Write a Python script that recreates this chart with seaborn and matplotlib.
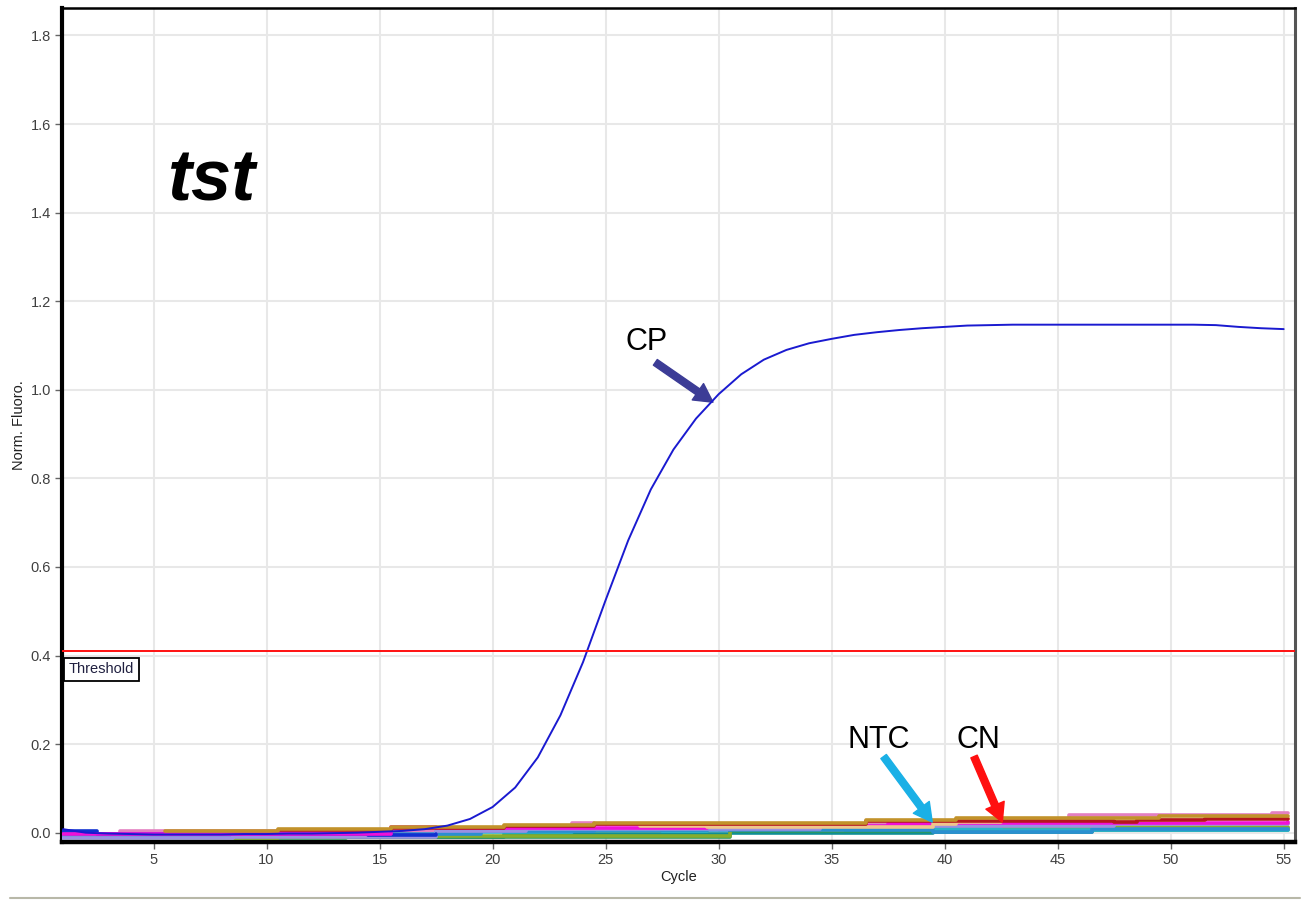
import numpy as np
import pandas as pd
import matplotlib
matplotlib.use("Agg")
import matplotlib.pyplot as plt
from matplotlib.lines import Line2D
import seaborn as sns

# ---------------- data ----------------
cycles = list(range(1, 56))
cp_values = [0.008, 0.000, -0.002, -0.003, -0.004, -0.004, -0.004, -0.004, -0.003, -0.003,
             -0.002, -0.002, -0.001, 0.000, 0.002, 0.004, 0.008, 0.016, 0.031, 0.058,
             0.102, 0.170, 0.265, 0.385, 0.525, 0.660, 0.775, 0.865, 0.935, 0.990,
             1.035, 1.068, 1.090, 1.105, 1.115, 1.124, 1.130, 1.135, 1.139, 1.142,
             1.145, 1.146, 1.147, 1.147, 1.147, 1.147, 1.147, 1.147, 1.147, 1.147,
             1.147, 1.146, 1.142, 1.139, 1.137]

threshold = 0.41

# background (negative / NTC) traces: step breakpoints (cycle) and values
pink_x = [1, 3.5, 23.5, 24.5, 45.5, 54.5, 55.2]
pink_y = [-0.004, 0.004, 0.022, 0.020, 0.039, 0.044, 0.044]
teal_x = [1, 2.5, 20.5, 30.5, 39.5, 46.5, 55.2]
teal_y = [-0.013, -0.010, -0.002, 0.000, 0.002, 0.005, 0.005]
green_x = [1, 13.5, 30.5, 39.5, 46.5, 55.2]
green_y = [-0.012, -0.010, 0.004, 0.008, 0.010, 0.010]
olive_x = [1, 3.5, 10.5, 13.5, 30.5, 35.5, 46.5, 55.2]
olive_y = [-0.011, -0.011, -0.009, -0.008, 0.006, 0.008, 0.012, 0.012]
cyan_x = [1, 3.5, 17.5, 23.5, 27.5, 29.5, 42.5, 55.2]
cyan_y = [-0.008, -0.006, 0.002, 0.006, 0.004, 0.008, 0.006, 0.007]
steel_x = [1, 15.5, 19.5, 24.5, 39.5, 46.5, 55.2]
steel_y = [-0.006, -0.004, 0.004, 0.006, 0.002, 0.008, 0.008]
purple_x = [1, 8.5, 17.5, 21.5, 34.5, 40.5, 47.5, 55.2]
purple_y = [-0.012, -0.010, 0.004, 0.008, 0.014, 0.016, 0.020, 0.020]
blue_x = [1, 2.5, 14.5, 16.5, 17.5]
blue_y = [0.003, -0.003, -0.006, -0.006, -0.002]
magenta_x = [1, 15.5, 17.5, 29.5, 35.5, 37.5, 39.5, 55.2]
magenta_y = [-0.002, 0.012, 0.010, 0.017, 0.015, 0.020, 0.022, 0.024]
peach_x = [26.5, 29.5, 39.5, 40.5, 42.5, 43.5, 51.5, 55.2]
peach_y = [0.014, 0.012, 0.020, 0.024, 0.030, 0.028, 0.033, 0.033]
darkred_x = [10.5, 15.5, 20.5, 24.5, 36.5, 40.5, 47.5, 48.5, 51.5, 55.2]
darkred_y = [0.006, 0.010, 0.014, 0.020, 0.026, 0.027, 0.025, 0.028, 0.030, 0.030]
gold_x = [5.5, 10.5, 15.5, 20.5, 24.5, 36.5, 40.5, 49.5, 55.2]
gold_y = [0.004, 0.009, 0.013, 0.018, 0.023, 0.028, 0.034, 0.038, 0.038]

noise_series = [
    (pink_x, pink_y, "#e37fc0"),
    (teal_x, teal_y, "#0e8f95"),
    (green_x, green_y, "#2e9a5a"),
    (olive_x, olive_y, "#86ad2c"),
    (cyan_x, cyan_y, "#2ab3c8"),
    (steel_x, steel_y, "#2a8fd0"),
    (purple_x, purple_y, "#9a90e2"),
    (blue_x, blue_y, "#1030d0"),
    (magenta_x, magenta_y, "#f010d8"),
    (peach_x, peach_y, "#efc58c"),
    (darkred_x, darkred_y, "#b5161c"),
    (gold_x, gold_y, "#c2922a"),
]

x_ticks = [5, 10, 15, 20, 25, 30, 35, 40, 45, 50, 55]
y_ticks = [0.0, 0.2, 0.4, 0.6, 0.8, 1.0, 1.2, 1.4, 1.6, 1.8]

# ---------------- style ----------------
sns.set_theme(style="whitegrid")
plt.rcParams["font.family"] = ["Liberation Sans", "DejaVu Sans"]

fig = plt.figure(figsize=(13.08, 9.01), dpi=100)
ax = fig.add_axes([62 / 1308, 1 - 842 / 901, (1295 - 62) / 1308, (842 - 8) / 901])
ax.set_facecolor("white")

# noise traces
for xs, ys, col in noise_series:
    d = pd.DataFrame({"Cycle": xs, "v": ys})
    sns.lineplot(data=d, x="Cycle", y="v", ax=ax, color=col, lw=2.6,
                 drawstyle="steps-post", estimator=None, sort=False, zorder=3)

# CP curve
cp_df = pd.DataFrame({"Cycle": cycles, "Norm. Fluoro.": cp_values})
sns.lineplot(data=cp_df, x="Cycle", y="Norm. Fluoro.", ax=ax, color="#1a1ad0",
             lw=1.4, estimator=None, zorder=4)

# threshold
ax.axhline(threshold, color="#ff1010", lw=1.4, zorder=4)
ax.text(1.25, 0.369, "Threshold", fontsize=10.5, color="#202040", va="center", ha="left",
        bbox=dict(boxstyle="square,pad=0.3", fc="white", ec="black", lw=1.3), zorder=5)

ax.set_xlim(0.95, 55.5)
ax.set_ylim(-0.021, 1.862)
ax.set_xticks(x_ticks)
ax.set_yticks(y_ticks)
ax.set_yticklabels([f"{v:.1f}" for v in y_ticks])
ax.grid(True, color="#e8e8e8", lw=1.5)
ax.tick_params(axis="both", which="both", length=5, width=1, color="#666666",
               labelsize=10.5, labelcolor="#404040", pad=3, left=True, bottom=True)

ax.set_xlabel("Cycle", fontsize=10.5, color="#202020", labelpad=2)
ax.set_ylabel("Norm. Fluoro.", fontsize=10.5, color="#202020", labelpad=3)

for side, lw, col in [("left", 3, "black"), ("bottom", 3.2, "black"),
                      ("top", 1.8, "black"), ("right", 2.2, "#555555")]:
    ax.spines[side].set_visible(True)
    ax.spines[side].set_color(col)
    ax.spines[side].set_linewidth(lw)

# annotations
ax.text(7.6, 1.47, "tst", fontsize=52, fontweight="bold", fontstyle="italic",
        ha="center", va="center", color="black")

ax.annotate("", xy=(29.75, 0.972), xytext=(27.2, 1.062),
            arrowprops=dict(arrowstyle="simple,head_length=1.2,head_width=1.3,tail_width=0.45",
                            color="#3c3c96", mutation_scale=11, shrinkA=0, shrinkB=0))
ax.text(26.8, 1.108, "CP", fontsize=22, ha="center", va="center", color="black")

ax.annotate("", xy=(39.45, 0.024), xytext=(37.3, 0.172),
            arrowprops=dict(arrowstyle="simple,head_length=1.2,head_width=1.3,tail_width=0.45",
                            color="#1ab0e6", mutation_scale=11, shrinkA=0, shrinkB=0))
ax.text(37.1, 0.21, "NTC", fontsize=22, ha="center", va="center", color="black")

ax.annotate("", xy=(42.55, 0.024), xytext=(41.3, 0.172),
            arrowprops=dict(arrowstyle="simple,head_length=1.2,head_width=1.3,tail_width=0.45",
                            color="#ff1010", mutation_scale=11, shrinkA=0, shrinkB=0))
ax.text(41.5, 0.21, "CN", fontsize=22, ha="center", va="center", color="black")

# thin gray rule under the chart
fig.add_artist(Line2D([0.008, 0.994], [1 - 898 / 901, 1 - 898 / 901],
                      color="#b8b8a8", lw=1.5))

fig.savefig("out.png", dpi=100, facecolor="white")
